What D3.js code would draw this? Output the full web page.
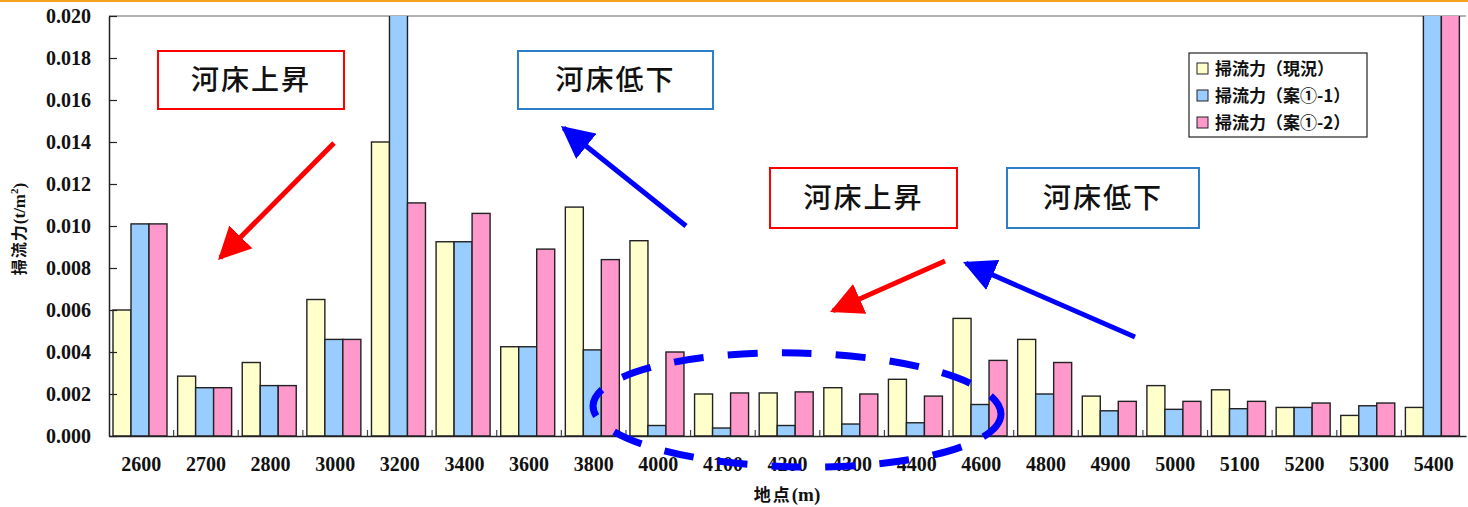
<!DOCTYPE html>
<html>
<head>
<meta charset="utf-8">
<script src="https://cdn.jsdelivr.net/npm/d3@7"></script>
<style>
  html, body { margin: 0; padding: 0; background: #fff; }
  svg { display: block; }
  .num { font-family: "Liberation Serif", "DejaVu Serif", serif; font-weight: bold; font-size: 20px; fill: #111; }
  .jp { font-family: "Noto Sans CJK JP", sans-serif; }
  .serif { font-family: "Liberation Serif", "DejaVu Serif", serif; }
</style>
</head>
<body>
<svg id="chart" width="1468" height="507"></svg>
<script>
// 地点 (m)
const categories = ["2600","2700","2800","3000","3200","3400","3600","3800","4000","4100","4200","4300","4400","4600","4800","4900","5000","5100","5200","5300","5400"];
// 掃流力 (t/m²) per case
const seriesNames = ["掃流力（現況）", "掃流力（案①-1）", "掃流力（案①-2）"];
const genkyo = [0.0060,0.00285,0.0035,0.0065,0.0140,0.00925,0.00425,0.0109,0.0093,0.0020,0.00205,0.0023,0.0027,0.0056,0.0046,0.0019,0.0024,0.0022,0.00136,0.00098,0.00136];
const an1 = [0.0101,0.0023,0.0024,0.0046,0.0215,0.00925,0.00425,0.0041,0.0005,0.00038,0.0005,0.00057,0.00063,0.0015,0.0020,0.0012,0.00127,0.0013,0.00136,0.00144,0.0215];
const an2 = [0.0101,0.0023,0.0024,0.0046,0.0111,0.0106,0.0089,0.0084,0.0040,0.00205,0.0021,0.0020,0.0019,0.0036,0.0035,0.00165,0.00165,0.00165,0.00157,0.00157,0.0215];
const yTicks = [0,0.002,0.004,0.006,0.008,0.010,0.012,0.014,0.016,0.018,0.020];
const colors = ["#FFFFCC", "#99CCFF", "#FF99CC"];

const svg = d3.select("#chart");
const W = 1468, H = 507;
const m = { left: 109, right: 1466, top: 16, bottom: 436 };

// orange rule across the top
svg.append("rect").attr("x", 0).attr("y", 0).attr("width", W).attr("height", 2).attr("fill", "#F5A31A");

const x = d3.scaleBand().domain(categories).range([m.left, m.right]).padding(0);
const x1 = d3.scaleBand().domain(d3.range(3)).range([4, 58]).padding(0);
const y = d3.scaleLinear().domain([0, 0.020]).range([m.bottom, m.top]);

const table = categories.map((c, i) => ({ c, v: [genkyo[i], an1[i], an2[i]] }));

// plot frame top edge in grey
svg.append("line").attr("x1", m.left).attr("x2", m.right).attr("y1", m.top).attr("y2", m.top)
  .attr("stroke", "#999").attr("stroke-width", 1.5);

svg.append("clipPath").attr("id", "plotClip").append("rect")
  .attr("x", m.left).attr("y", m.top).attr("width", m.right - m.left).attr("height", m.bottom - m.top);

const bars = svg.append("g").attr("clip-path", "url(#plotClip)");
bars.selectAll("g").data(table).join("g")
  .attr("transform", d => `translate(${x(d.c)},0)`)
  .selectAll("rect").data(d => d.v.map((v, k) => ({ v, k }))).join("rect")
  .attr("x", d => x1(d.k))
  .attr("y", d => y(d.v))
  .attr("width", x1.bandwidth())
  .attr("height", d => y(0) - y(d.v))
  .attr("fill", d => colors[d.k])
  .attr("stroke", "#222")
  .attr("stroke-width", 1.4);

// Y axis
const yAxis = svg.append("g").attr("transform", `translate(${m.left},0)`)
  .call(d3.axisLeft(y).tickValues(yTicks).tickFormat(d3.format(".3f")).tickSizeInner(-8).tickSizeOuter(0).tickPadding(18));
yAxis.select(".domain").attr("stroke", "#222").attr("stroke-width", 1.5);
yAxis.selectAll(".tick line").attr("stroke", "#222").attr("stroke-width", 1.2);
yAxis.selectAll("text").attr("class", "num");

// X axis
const xAxis = svg.append("g").attr("transform", `translate(0,${m.bottom})`)
  .call(d3.axisBottom(x).tickSize(0).tickPadding(21));
xAxis.select(".domain").attr("stroke", "#222").attr("stroke-width", 1.5);
xAxis.selectAll("text").attr("class", "num");
svg.append("g").selectAll("line").data(categories.slice(1)).join("line")
  .attr("x1", d => x(d)).attr("x2", d => x(d))
  .attr("y1", m.bottom).attr("y2", m.bottom - 6)
  .attr("stroke", "#444").attr("stroke-width", 1.2);

// axis titles: kanji in gothic, units in bold serif
const xl = svg.append("text")
  .attr("x", 787).attr("y", 501).attr("text-anchor", "middle")
  .attr("font-weight", "bold").attr("fill", "#111");
xl.append("tspan").attr("class", "jp").attr("font-size", 17).attr("letter-spacing", 2).text("地点");
xl.append("tspan").attr("class", "serif").attr("font-size", 19).text("(m)");

const yl = svg.append("text")
  .attr("transform", "translate(25,229) rotate(-90)").attr("text-anchor", "middle")
  .attr("font-weight", "bold").attr("fill", "#111");
yl.append("tspan").attr("class", "jp").attr("font-size", 16).attr("letter-spacing", 1).text("掃流力");
yl.append("tspan").attr("class", "serif").attr("font-size", 17).text("(t/m");
yl.append("tspan").attr("class", "serif").attr("dy", -7).attr("font-size", 11).text("2");
yl.append("tspan").attr("class", "serif").attr("dy", 7).attr("font-size", 17).text(")");

// legend
const lg = svg.append("g");
lg.append("rect").attr("x", 1189).attr("y", 53).attr("width", 178).attr("height", 84)
  .attr("fill", "#fff").attr("stroke", "#222").attr("stroke-width", 1.2);
seriesNames.forEach((s, k) => {
  const cy = 69 + k * 27;
  lg.append("rect").attr("x", 1197).attr("y", cy - 6).attr("width", 11).attr("height", 11)
    .attr("fill", colors[k]).attr("stroke", "#222").attr("stroke-width", 1);
  lg.append("text").attr("class", "jp").attr("x", 1215).attr("y", cy).attr("dy", "0.36em")
    .attr("font-size", 17).attr("font-weight", "bold").attr("fill", "#111").text(s);
});

// annotations: boxed labels
const notes = [
  { t: "河床上昇", x: 158, y: 51, w: 186, h: 58, c: "#FF0000" },
  { t: "河床低下", x: 518, y: 51, w: 195, h: 58, c: "#2E7FC8" },
  { t: "河床上昇", x: 770, y: 168, w: 187, h: 60, c: "#FF0000" },
  { t: "河床低下", x: 1007, y: 168, w: 192, h: 60, c: "#2E7FC8" }
];
notes.forEach(n => {
  svg.append("rect").attr("x", n.x).attr("y", n.y).attr("width", n.w).attr("height", n.h)
    .attr("fill", "#fff").attr("stroke", n.c).attr("stroke-width", 2);
  svg.append("text").attr("class", "jp").attr("x", n.x + n.w / 2).attr("y", n.y + n.h / 2)
    .attr("dy", "0.36em").attr("text-anchor", "middle").attr("font-size", 28)
    .attr("font-weight", 500).attr("letter-spacing", 2).attr("fill", "#111")
    .text(n.t);
});

// arrows
const defs = svg.append("defs");
[["arRed", "#FF0000"], ["arBlue", "#0000FF"]].forEach(([id, c]) => {
  defs.append("marker").attr("id", id).attr("viewBox", "0 0 10 10")
    .attr("refX", 9).attr("refY", 5).attr("markerWidth", 6.5).attr("markerHeight", 6.5)
    .attr("markerUnits", "strokeWidth").attr("orient", "auto")
    .append("path").attr("d", "M0,0 L10,5 L0,10 Z").attr("fill", c);
});
const arrows = [
  { x1: 334, y1: 143, x2: 218, y2: 260, m: "arRed", c: "#FF0000" },
  { x1: 686, y1: 226, x2: 561, y2: 126, m: "arBlue", c: "#0000FF" },
  { x1: 945, y1: 261, x2: 830, y2: 312, m: "arRed", c: "#FF0000" },
  { x1: 1135, y1: 337, x2: 963, y2: 262, m: "arBlue", c: "#0000FF" }
];
arrows.forEach(a => {
  const dx = a.x2 - a.x1, dy = a.y2 - a.y1, L = Math.hypot(dx, dy);
  const back = 5 * 6.5 * 0.1; // keep tip on target with marker refX
  svg.append("line").attr("x1", a.x1).attr("y1", a.y1)
    .attr("x2", a.x2 - dx / L * back).attr("y2", a.y2 - dy / L * back)
    .attr("stroke", a.c).attr("stroke-width", 5).attr("marker-end", `url(#${a.m})`);
});

// dashed ellipse around the low-shear reach
svg.append("ellipse").attr("cx", 797).attr("cy", 410).attr("rx", 204).attr("ry", 57)
  .attr("transform", "rotate(1.2,797,410)")
  .attr("fill", "none").attr("stroke", "#0000FF").attr("stroke-width", 7)
  .attr("stroke-dasharray", "30 24");
</script>
</body>
</html>
